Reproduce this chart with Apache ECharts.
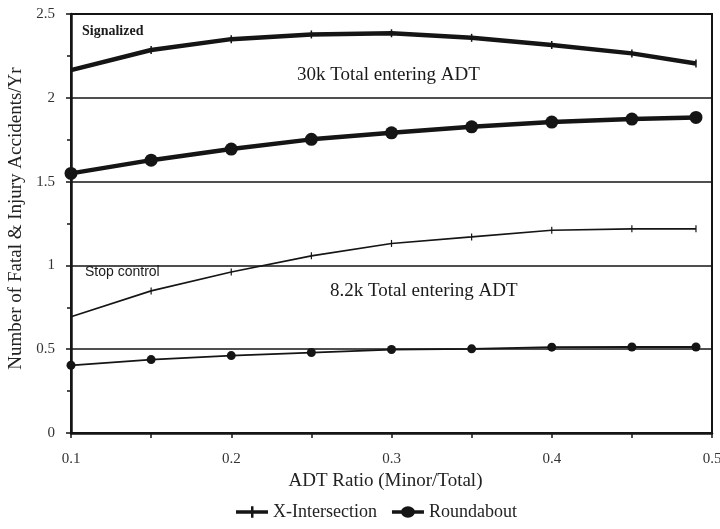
<!DOCTYPE html>
<html>
<head>
<meta charset="utf-8">
<script src="https://cdn.jsdelivr.net/npm/echarts@6/dist/echarts.min.js"></script>
<style>html,body{margin:0;padding:0;background:#fff;}#c{width:720px;height:529px;}</style>
</head>
<body>
<div id="c"></div>
<script>
const xValues = [0.1, 0.15, 0.2, 0.25, 0.3, 0.35, 0.4, 0.45, 0.49];
const signalizedX = [2.165, 2.285, 2.35, 2.378, 2.385, 2.358, 2.315, 2.265, 2.205];
const signalizedRb = [1.549, 1.628, 1.694, 1.752, 1.791, 1.827, 1.855, 1.873, 1.883];
const stopX = [0.693, 0.848, 0.961, 1.057, 1.131, 1.170, 1.21, 1.218, 1.218];
const stopRb = [0.404, 0.438, 0.462, 0.48, 0.498, 0.502, 0.512, 0.513, 0.513];
const legendNames = ['X-Intersection', 'Roundabout'];
const annotations = [
  {text: 'Signalized', x: 82, y: 33, size: 14, family: 'Liberation Serif', weight: 'bold'},
  {text: '30k Total entering ADT', x: 297, y: 77, size: 19, family: 'Liberation Serif', weight: 'normal'},
  {text: 'Stop control', x: 85, y: 274, size: 14, family: 'Liberation Sans', weight: 'normal'},
  {text: '8.2k Total entering ADT', x: 330, y: 293, size: 19, family: 'Liberation Serif', weight: 'normal'}
];

const ink = '#151515';
const pair = a => xValues.map((x, i) => [x, a[i]]);
const tickSym = 'path://M0,0L1,0L1,10L0,10Z';
const legendIcons = {
  'X-Intersection': 'path://M0,4L32,4L32,7.5L0,7.5Z M15,0L17.5,0L17.5,11.5L15,11.5Z',
  'Roundabout': 'path://M0,4L32,4L32,7.5L0,7.5Z M9,5.75A7,5.75 0 1 1 23,5.75A7,5.75 0 1 1 9,5.75Z'
};

const chart = echarts.init(document.getElementById('c'), null, {renderer: 'canvas'});
chart.setOption({
  animation: false,
  backgroundColor: '#fff',
  textStyle: {fontFamily: 'Liberation Serif', color: '#222'},
  grid: {left: 71, right: 8, top: 14, bottom: 96, show: true, borderColor: ink, borderWidth: 2,
         containLabel: false, outerBoundsMode: 'none'},
  legend: {
    data: legendNames.map(n => ({name: n, icon: legendIcons[n]})),
    bottom: 3, left: 231, itemWidth: 32, itemHeight: 12, itemGap: 15,
    itemStyle: {color: ink},
    textStyle: {fontFamily: 'Liberation Serif', fontSize: 18, color: '#222'}
  },
  xAxis: {
    type: 'value', min: 0.1, max: 0.5, interval: 0.05,
    name: 'ADT Ratio (Minor/Total)', nameLocation: 'middle', nameGap: 30,
    nameTextStyle: {fontFamily: 'Liberation Serif', fontSize: 19, color: '#222', padding: [0, 12, 0, 0]},
    axisLine: {show: true, lineStyle: {color: ink, width: 2.5}},
    axisTick: {show: true, length: 5, lineStyle: {color: ink, width: 1.5}},
    axisLabel: {
      margin: 19, fontSize: 15, color: '#333', fontFamily: 'Liberation Serif',
      formatter: v => { const r = Math.round(v * 100); return r % 10 === 0 ? (r / 100).toFixed(1) : ''; }
    },
    splitLine: {show: false}
  },
  yAxis: {
    type: 'value', min: 0, max: 2.5, interval: 0.5,
    name: 'Number of Fatal & Injury Accidents/Yr', nameLocation: 'middle', nameGap: 44,
    nameTextStyle: {fontFamily: 'Liberation Serif', fontSize: 19, color: '#222', padding: [0, 0, 0, 10]},
    axisLine: {show: true, lineStyle: {color: ink, width: 2.5}},
    axisTick: {show: true, length: 5, lineStyle: {color: ink, width: 1.5}},
    minorTick: {show: true, splitNumber: 2, length: 4, lineStyle: {color: ink, width: 1.5}},
    axisLabel: {margin: 16, fontSize: 15, color: '#333', fontFamily: 'Liberation Serif'},
    splitLine: {show: true, lineStyle: {color: ink, width: 1.5}}
  },
  series: [
    {name: 'X-Intersection', type: 'line', data: pair(signalizedX), symbol: tickSym, symbolSize: [1.5, 8],
     lineStyle: {color: ink, width: 4.5}, itemStyle: {color: ink}},
    {name: 'Roundabout', type: 'line', data: pair(signalizedRb), symbol: 'circle', symbolSize: 13,
     lineStyle: {color: ink, width: 4.5}, itemStyle: {color: ink}},
    {name: 'X-Intersection', type: 'line', data: pair(stopX), symbol: tickSym, symbolSize: [1.2, 7],
     lineStyle: {color: ink, width: 1.6}, itemStyle: {color: ink}},
    {name: 'Roundabout', type: 'line', data: pair(stopRb), symbol: 'circle', symbolSize: 9,
     lineStyle: {color: ink, width: 1.8}, itemStyle: {color: ink}}
  ],
  graphic: annotations.map(a => ({
    type: 'text', left: a.x, top: a.y - a.size / 2 - 2,
    style: {text: a.text, fill: '#1a1a1a', font: a.weight + ' ' + a.size + 'px "' + a.family + '"'}
  }))
});
</script>
</body>
</html>
